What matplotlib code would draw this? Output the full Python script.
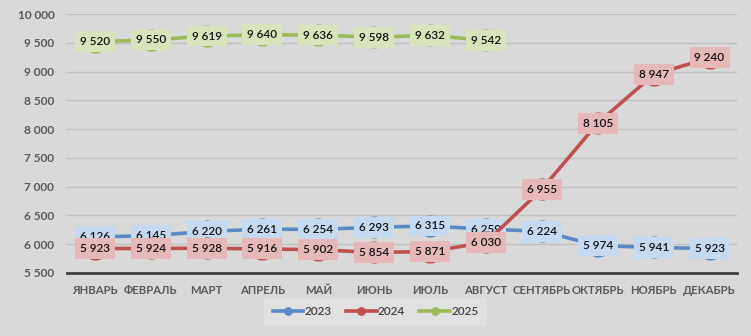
import matplotlib
matplotlib.use("Agg")
import matplotlib.pyplot as plt
from matplotlib.ticker import FuncFormatter

plt.rcParams['font.family'] = ['Lato', 'DejaVu Sans']

months = ["ЯНВАРЬ", "ФЕВРАЛЬ", "МАРТ", "АПРЕЛЬ", "МАЙ", "ИЮНЬ", "ИЮЛЬ",
          "АВГУСТ", "СЕНТЯБРЬ", "ОКТЯБРЬ", "НОЯБРЬ", "ДЕКАБРЬ"]
v2023 = [6126, 6145, 6220, 6261, 6254, 6293, 6315, 6259, 6224, 5974, 5941, 5923]
v2024 = [5923, 5924, 5928, 5916, 5902, 5854, 5871, 6030, 6955, 8105, 8947, 9240]
v2025 = [9520, 9550, 9619, 9640, 9636, 9598, 9632, 9542]

series = [
    ("2023", v2023, "#5a8ac6", "#c5d9f1", 3),
    ("2024", v2024, "#c0504d", "#e6b8b7", 4),
    ("2025", v2025, "#9bbb59", "#d7e4bc", 5),
]

def fmt(v):
    return f"{v:,}".replace(",", " ")

bg = "#d9d9d9"
fig = plt.figure(figsize=(7.51, 3.36), dpi=100, facecolor=bg)
ax = fig.add_axes([0.089, 0.188, 0.893, 0.77])
ax.set_facecolor(bg)

x = list(range(len(months)))
for name, vals, col, light, z in series:
    xs = x[:len(vals)]
    ax.plot(xs, vals, color=col, lw=2.6, marker="o", ms=15, zorder=z,
            label=name)
    for xi, v in zip(xs, vals):
        ax.text(xi, v, fmt(v), ha="center", va="center", fontsize=8.5,
                fontweight="semibold", color="#111111", zorder=z + 0.5,
                bbox=dict(boxstyle="square,pad=0.42", fc=light, ec="none"))

ax.set_xlim(-0.5, 11.5)
ax.set_ylim(5500, 10000)
ax.set_yticks(range(5500, 10001, 500))
ax.yaxis.set_major_formatter(FuncFormatter(lambda v, p: fmt(int(v))))
ax.set_xticks(x)
ax.set_xticklabels(months)
ax.grid(axis="y", color="#bfbfbf", lw=1)
ax.set_axisbelow(True)
for s in ["top", "right", "left"]:
    ax.spines[s].set_visible(False)
ax.spines["bottom"].set_color("#404040")
ax.spines["bottom"].set_linewidth(2)
ax.tick_params(axis="x", length=0, labelsize=8.2, labelcolor="#595959", pad=9)
ax.tick_params(axis="y", length=0, labelsize=8.6, labelcolor="#595959", pad=9)
for lbl in ax.get_xticklabels() + ax.get_yticklabels():
    lbl.set_fontweight("bold")

leg = fig.legend(loc="lower center", bbox_to_anchor=(0.5, 0.022), ncol=3,
                 frameon=True, fontsize=8.5, handlelength=2.6,
                 handletextpad=0.1, markerscale=0.35, columnspacing=1.2,
                 borderpad=0.45)
leg.get_frame().set_facecolor("#e4e4e4")
leg.get_frame().set_edgecolor("none")
leg.get_frame().set_boxstyle("square")
for t in leg.get_texts():
    t.set_color("#404040")
    t.set_fontweight("semibold")

fig.savefig("out.png", dpi=100, facecolor=bg)
